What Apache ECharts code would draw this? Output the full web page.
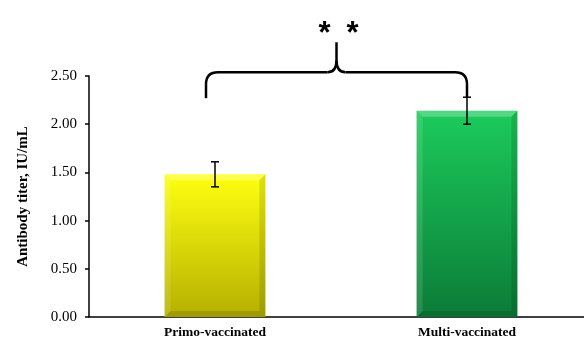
<!DOCTYPE html>
<html>
<head>
<meta charset="utf-8">
<script src="https://cdn.jsdelivr.net/npm/echarts@6/dist/echarts.min.js"></script>
<style>
  html, body { margin: 0; padding: 0; background: #fff; overflow: hidden; }
  /* plot runs a little past the right edge of the window */
  #chart { width: 593px; height: 338px; }
</style>
</head>
<body>
<div id="chart"></div>
<script>
// Antibody titers by vaccination history
const categories = ['Primo-vaccinated', 'Multi-vaccinated'];
const titerMean = [1.48, 2.14];
const titerErr = [0.13, 0.14];
const yTicks = [0, 0.5, 1.0, 1.5, 2.0, 2.5];
const barTop = ['#ffff10', '#1ccb5c'];
const barBottom = ['#b5b000', '#0b7c37'];
const significance = '**';
// brace levels on the titer scale: left foot, right foot, crossbar, tip
const braceLevels = [2.27, 2.28, 2.54, 2.85];

const serif = '"Liberation Serif", "Times New Roman", serif';
const chart = echarts.init(document.getElementById('chart'));

// bevelled bar drawn through the value axis
function renderBar(params, api) {
  const i = api.value(0);
  const v = api.value(1);
  const top = api.coord([i, v]);
  const base = api.coord([i, 0]);
  const w = api.size([1, 0])[0] * 0.4;
  const x0 = top[0] - w / 2, x1 = top[0] + w / 2;
  const yt = top[1], yb = base[1];
  const b = 6;
  const fill = new echarts.graphic.LinearGradient(0, 0, 0, 1, [
    { offset: 0, color: barTop[i] },
    { offset: 1, color: barBottom[i] }
  ]);
  return {
    type: 'group',
    children: [
      { type: 'rect', shape: { x: x0, y: yt, width: w, height: yb - yt }, style: { fill: fill } },
      { type: 'polygon', shape: { points: [[x0, yt], [x1, yt], [x1 - b, yt + b], [x0 + b, yt + b]] }, style: { fill: 'rgba(255,255,255,0.25)' } },
      { type: 'polygon', shape: { points: [[x0, yt], [x0 + b, yt + b], [x0 + b, yb - b], [x0, yb]] }, style: { fill: 'rgba(255,255,255,0.12)' } },
      { type: 'polygon', shape: { points: [[x1, yt], [x1, yb], [x1 - b, yb - b], [x1 - b, yt + b]] }, style: { fill: 'rgba(0,0,0,0.12)' } },
      { type: 'polygon', shape: { points: [[x0, yb], [x1, yb], [x1 - b, yb - b], [x0 + b, yb - b]] }, style: { fill: 'rgba(0,0,0,0.12)' } }
    ]
  };
}

function renderErr(params, api) {
  const i = api.value(0);
  const lo = api.coord([i, api.value(1) - api.value(2)]);
  const hi = api.coord([i, api.value(1) + api.value(2)]);
  const c = 4;
  const st = { stroke: '#000', lineWidth: 1.5 };
  return {
    type: 'group',
    children: [
      { type: 'line', shape: { x1: lo[0], y1: lo[1], x2: hi[0], y2: hi[1] }, style: st },
      { type: 'line', shape: { x1: lo[0] - c, y1: lo[1], x2: lo[0] + c, y2: lo[1] }, style: st },
      { type: 'line', shape: { x1: hi[0] - c, y1: hi[1], x2: hi[0] + c, y2: hi[1] }, style: st }
    ]
  };
}

// curly brace joining the two groups, with the significance mark above it
function renderBrace(params, api) {
  if (params.dataIndex !== 0) return null;
  const xl = api.coord([0, 0])[0] - 9;
  const xr = api.coord([1, 0])[0];
  const yFootL = api.coord([0, braceLevels[0]])[1];
  const yFootR = api.coord([1, braceLevels[1]])[1];
  const yBar = api.coord([0, braceLevels[2]])[1];
  const yTip = api.coord([0, braceLevels[3]])[1];
  const xm = (xl + xr) / 2;
  const r = 12, m = 9, h = 12;
  const st = { stroke: '#000', lineWidth: 2.5, fill: null };
  const seg = (a, b, c, d) => ({ type: 'line', shape: { x1: a, y1: b, x2: c, y2: d }, style: st });
  const crv = (a, b, cx, cy, c, d) => ({ type: 'bezierCurve', shape: { x1: a, y1: b, cpx1: cx, cpy1: cy, x2: c, y2: d }, style: st });
  const stars = significance.split('').map((s, k, all) => ({
    type: 'text',
    x: xm + 2 + (k - (all.length - 1) / 2) * 28,
    y: yTip - 8,
    style: { text: s, fill: '#000', font: 'bold 31px "Liberation Sans", Arial, sans-serif', align: 'center', verticalAlign: 'middle' }
  }));
  return {
    type: 'group',
    children: [
      seg(xl, yFootL, xl, yBar + r),
      crv(xl, yBar + r, xl, yBar, xl + r, yBar),
      seg(xl + r, yBar, xm - m, yBar),
      crv(xm - m, yBar, xm, yBar, xm, yBar - h),
      seg(xm, yBar - h, xm, yTip),
      crv(xm + m, yBar, xm, yBar, xm, yBar - h),
      seg(xm + m, yBar, xr - r, yBar),
      crv(xr - r, yBar, xr, yBar, xr, yBar + r),
      seg(xr, yBar + r, xr, yFootR)
    ].concat(stars)
  };
}

const barData = categories.map((c, i) => [i, titerMean[i]]);
const errData = categories.map((c, i) => [i, titerMean[i], titerErr[i]]);

chart.setOption({
  animation: false,
  backgroundColor: '#fff',
  grid: { left: 89, right: 0, top: 76, bottom: 21, containLabel: false, outerBoundsMode: 'none' },
  xAxis: {
    type: 'category',
    data: categories,
    axisLine: { lineStyle: { color: '#000', width: 1.5 } },
    axisTick: { show: false },
    axisLabel: { color: '#000', fontFamily: serif, fontWeight: 'bold', fontSize: 13.5, margin: 9 }
  },
  yAxis: {
    type: 'value',
    min: yTicks[0],
    max: yTicks[yTicks.length - 1],
    interval: 0.5,
    name: 'Antibody titer, IU/mL',
    nameLocation: 'middle',
    nameGap: 58,
    nameTextStyle: { color: '#000', fontFamily: serif, fontWeight: 'bold', fontSize: 15 },
    axisLine: { show: true, lineStyle: { color: '#000', width: 1.5 } },
    axisTick: { show: true, length: 4, lineStyle: { color: '#000', width: 1.5 } },
    splitLine: { show: false },
    axisLabel: { color: '#000', fontFamily: serif, fontSize: 15, margin: 12, formatter: v => v.toFixed(2) }
  },
  series: [
    { type: 'custom', renderItem: renderBar, data: barData, z: 2 },
    { type: 'custom', renderItem: renderErr, data: errData, z: 3 },
    { type: 'custom', renderItem: renderBrace, data: barData, z: 4, clip: false }
  ]
});
</script>
</body>
</html>
